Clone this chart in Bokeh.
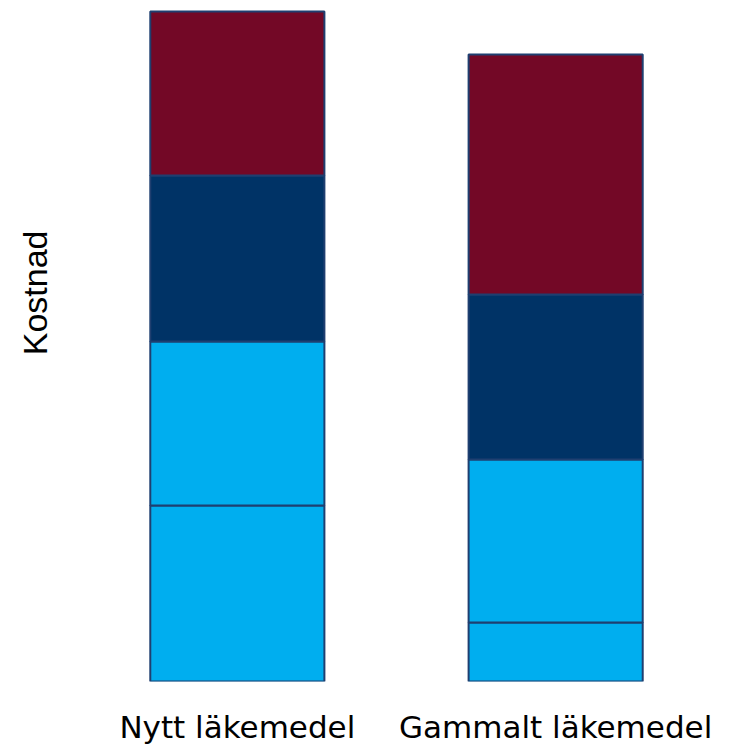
from bokeh.plotting import figure
from bokeh.models import FactorRange, Range1d, ColumnDataSource, Title
from bokeh.embed import file_html
from bokeh.resources import INLINE

# Data (arbitrary cost units, bottom to top)
categories = ["Nytt läkemedel", "Gammalt läkemedel"]
segments = ["del1", "del2", "del3", "del4"]
del1 = [176, 59]
del2 = [164, 163]
del3 = [166, 165]
del4 = [164, 240]
colors = ["#00AEEF", "#00AEEF", "#003366", "#730826"]
y_label = "Kostnad"

source = ColumnDataSource(dict(cat=categories, del1=del1, del2=del2, del3=del3, del4=del4))

p = figure(
    x_range=FactorRange(*categories, range_padding=0.065),
    y_range=Range1d(0, 681),
    width=735, height=750,
    output_backend="svg", toolbar_location=None,
    min_border_left=57, min_border_right=0, min_border_top=0, min_border_bottom=69,
    outline_line_color=None,
)

p.vbar_stack(segments, x="cat", width=0.547, source=source, fill_color=colors,
             line_color="#1F3F70", line_width=2)

p.xgrid.visible = False
p.ygrid.visible = False

p.xaxis.axis_line_color = None
p.xaxis.major_tick_line_color = None
p.xaxis.minor_tick_line_color = None
p.xaxis.major_label_text_font = "DejaVu Sans"
p.xaxis.major_label_text_font_size = "31px"
p.xaxis.major_label_text_color = "#000000"
p.xaxis.major_label_standoff = 21

p.yaxis.visible = False

ylab = Title(text=y_label, align="right", offset=230, standoff=7,
             text_font="Liberation Sans", text_font_style="normal",
             text_font_size="34px", text_color="#000000", vertical_align="bottom")
p.add_layout(ylab, "left")

open("out.html", "w").write(file_html(p, INLINE))
